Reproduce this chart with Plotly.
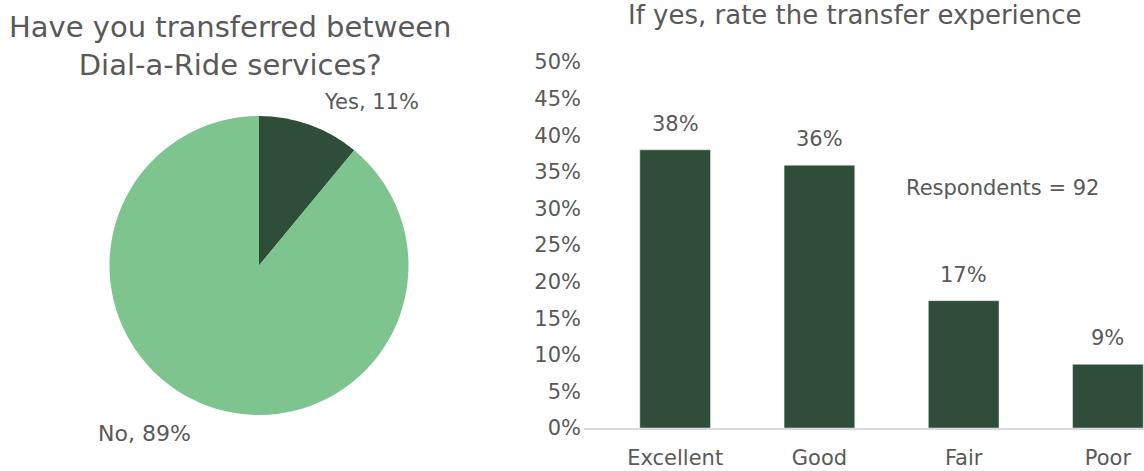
import plotly.graph_objects as go

# Pie data
pie_labels = ["Yes", "No"]
pie_values = [11, 89]
pie_colors = ["#2F4E3A", "#7DC48F"]

# Bar data
categories = ["Excellent", "Good", "Fair", "Poor"]
bar_values = [0.380, 0.359, 0.174, 0.087]
bar_labels = ["38%", "36%", "17%", "9%"]
y_ticks = [0, 0.05, 0.10, 0.15, 0.20, 0.25, 0.30, 0.35, 0.40, 0.45, 0.50]
y_tick_labels = ["0%", "5%", "10%", "15%", "20%", "25%", "30%", "35%", "40%", "45%", "50%"]
respondents = 92

FONT = "DejaVu Sans"
GRAY = "#595959"
W, H = 1144, 471

fig = go.Figure()

fig.add_trace(go.Pie(
    labels=pie_labels, values=pie_values,
    marker=dict(colors=pie_colors, line=dict(width=0)),
    sort=False, direction="clockwise", rotation=0,
    textinfo="none", hoverinfo="label+percent",
    domain=dict(x=[109 / W, 409 / W], y=[(471 - 415) / H, (471 - 116) / H]),
    showlegend=False,
))

fig.add_trace(go.Bar(
    x=categories, y=bar_values,
    marker=dict(color="#2F4E3A"),
    width=0.49,
    showlegend=False,
    xaxis="x", yaxis="y",
))

annotations = [
    dict(text="Have you transferred between<br>Dial-a-Ride services?",
         x=230 / W, y=(471 - 46) / H, xref="paper", yref="paper",
         xanchor="center", yanchor="middle",
         showarrow=False, font=dict(family=FONT, size=29, color=GRAY),
         align="center"),
    dict(text="If yes, rate the transfer experience",
         x=855 / W, y=(471 - 15) / H, xref="paper", yref="paper",
         xanchor="center", yanchor="middle",
         showarrow=False, font=dict(family=FONT, size=26, color=GRAY)),
    dict(text=f"{pie_labels[0]}, {pie_values[0]}%",
         x=371 / W, y=(471 - 102) / H, xref="paper", yref="paper",
         xanchor="center", yanchor="middle",
         showarrow=False, font=dict(family=FONT, size=21, color=GRAY)),
    dict(text=f"{pie_labels[1]}, {pie_values[1]}%",
         x=144 / W, y=(471 - 433) / H, xref="paper", yref="paper",
         xanchor="center", yanchor="middle",
         showarrow=False, font=dict(family=FONT, size=22, color=GRAY)),
    dict(text=f"Respondents = {respondents}",
         x=1002 / W, y=(471 - 188) / H, xref="paper", yref="paper",
         xanchor="center", yanchor="middle",
         showarrow=False, font=dict(family=FONT, size=21, color=GRAY)),
]
for c, v, t in zip(categories, bar_values, bar_labels):
    annotations.append(dict(
        text=t, x=c, y=v, xref="x", yref="y",
        xanchor="center", yanchor="middle", yshift=26,
        showarrow=False, font=dict(family=FONT, size=21, color=GRAY)))

fig.update_layout(
    width=W, height=H,
    margin=dict(l=0, r=0, t=0, b=0, autoexpand=False),
    paper_bgcolor="white", plot_bgcolor="white",
    font=dict(family=FONT, color=GRAY),
    xaxis=dict(
        domain=[584 / W, 1.0],
        range=[-0.632, 3.25],
        automargin=False,
        showgrid=False, zeroline=False,
        showline=True, linecolor="#D9D9D9", linewidth=2,
        ticks="", ticklabelstandoff=10,
        tickfont=dict(family=FONT, size=21, color=GRAY),
        fixedrange=True,
    ),
    yaxis=dict(
        domain=[(471 - 428) / H, (471 - 62) / H],
        range=[0, 0.5],
        automargin=False,
        tickvals=y_ticks, ticktext=y_tick_labels,
        showgrid=False, zeroline=False, showline=False,
        ticks="", ticklabelstandoff=2,
        tickfont=dict(family=FONT, size=21, color=GRAY),
        fixedrange=True,
    ),
    annotations=annotations,
)

fig.write_html("out.html", config={"displayModeBar": False},
               post_script="document.body.style.margin='0';")
